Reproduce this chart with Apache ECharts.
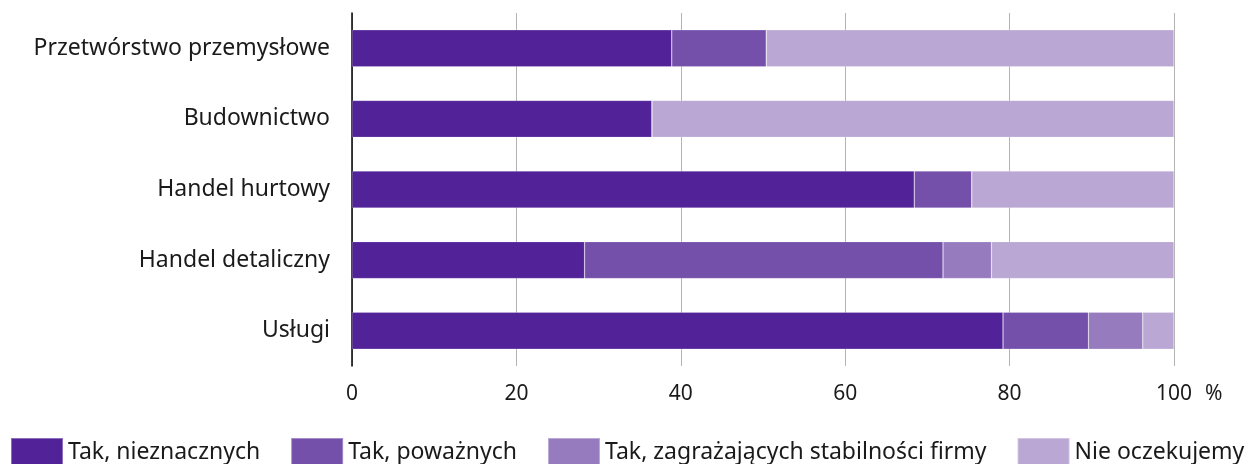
<!DOCTYPE html>
<html><head><meta charset="utf-8">
<script src="https://cdn.jsdelivr.net/npm/echarts@6/dist/echarts.min.js"></script>
<style>html,body{margin:0;padding:0;background:#fff}#c{width:1253px;height:464px}</style>
</head><body><div id="c"></div>
<script>
const categories = ['Przetwórstwo przemysłowe','Budownictwo','Handel hurtowy','Handel detaliczny','Usługi'];
const seriesNames = ['Tak, nieznacznych','Tak, poważnych','Tak, zagrażających stabilności firmy','Nie oczekujemy'];
const takNieznacznych = [38.9, 36.5, 68.4, 28.3, 79.2];
const takPowaznych    = [11.5, 0, 7.0, 43.6, 10.4];
const takZagrazajacych = [0, 0, 0, 5.9, 6.6];
const nieOczekujemy   = [49.6, 63.5, 24.6, 22.2, 3.8];
const xTicks = [0, 20, 40, 60, 80, 100];
const colors = ['#522398','#7450ab','#967bbe','#baa7d4'];
const values = [takNieznacznych, takPowaznych, takZagrazajacych, nieOczekujemy];
const font = '"Noto Sans", "Open Sans", sans-serif';

const chart = echarts.init(document.getElementById('c'), null, {renderer:'canvas'});
chart.setOption({
  animation:false,
  textStyle:{fontFamily:font},
  grid:{left:352, right:79, top:13, bottom:98, containLabel:false},
  legend:{
    bottom:-8, left:5, width:1600, itemWidth:52, itemHeight:28, itemGap:30,
    icon:'rect',
    textStyle:{fontSize:23, color:'#1a1a1a', fontFamily:font, padding:[0,0,0,0]},
    data:seriesNames
  },
  xAxis:{
    type:'value', min:0, max:100, interval:20,
    axisLine:{show:false}, axisTick:{show:false},
    splitLine:{lineStyle:{color:'#b3b3b3', width:1}},
    axisLabel:{fontSize:21, color:'#1a1a1a', margin:18, formatter:v=>xTicks.includes(v)?String(v):''},
    name:'%', nameLocation:'end', nameGap:31,
    nameTextStyle:{fontSize:21, color:'#1a1a1a', verticalAlign:'top', padding:[18,0,0,0]}
  },
  yAxis:{
    type:'category', inverse:true, data:categories,
    axisLine:{show:true, lineStyle:{color:'#000', width:1.5}},
    axisTick:{show:false},
    axisLabel:{fontSize:23, color:'#1a1a1a', margin:22}
  },
  series: seriesNames.map((n,i)=>({
    name:n, type:'bar', stack:'s', barWidth:37,
    itemStyle:{color:colors[i], borderColor:'rgba(255,255,255,0.35)', borderWidth:0.6},
    data: values[i]
  }))
});
</script></body></html>
